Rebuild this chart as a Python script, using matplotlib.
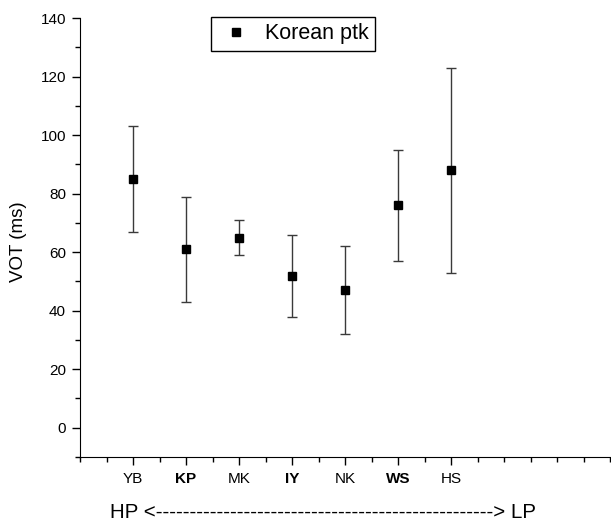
import matplotlib
matplotlib.use("Agg")
from matplotlib import pyplot as plt
from matplotlib.ticker import MultipleLocator

plt.rcParams['font.family'] = ['Liberation Sans', 'DejaVu Sans']

speakers = ["YB", "KP", "MK", "IY", "NK", "WS", "HS"]
bold_speakers = ["KP", "IY", "WS"]
vot_mean = [85, 61, 65, 52, 47, 76, 88]
vot_low = [67, 43, 59, 38, 32, 57, 53]
vot_high = [103, 79, 71, 66, 62, 95, 123]

positions = list(range(1, len(speakers) + 1))
err_low = [m - lo for m, lo in zip(vot_mean, vot_low)]
err_high = [hi - m for m, hi in zip(vot_mean, vot_high)]

fig = plt.figure(figsize=(6.11, 5.21), dpi=100)
ax = fig.add_axes([80 / 611, 64 / 521, 530 / 611, 439 / 521])

# error bars first, then the squares on top (only squares go in the legend)
ax.errorbar(positions, vot_mean, yerr=[err_low, err_high], fmt='none',
            ecolor='#3a3a3a', elinewidth=1, capsize=3.5, capthick=1)
ax.plot(positions, vot_mean, 's', color='black', markersize=5.5,
        label='Korean ptk')

ax.set_xlim(0, 10)
ax.set_ylim(-10, 140)
ax.spines['top'].set_visible(False)
ax.spines['right'].set_visible(False)

ax.yaxis.set_major_locator(MultipleLocator(20))
ax.yaxis.set_minor_locator(MultipleLocator(10))
ax.xaxis.set_major_locator(MultipleLocator(1))
ax.xaxis.set_minor_locator(MultipleLocator(0.5))
ax.tick_params(which='major', direction='out', length=6, width=1, labelsize=11)
ax.tick_params(which='minor', direction='out', length=3.5, width=1)
ax.tick_params(axis='y', pad=4)
ax.tick_params(axis='x', pad=5)

ax.set_xticks(positions, speakers)
for lab in ax.get_xticklabels():
    if lab.get_text() in bold_speakers:
        lab.set_fontweight('bold')

ax.set_ylabel("VOT (ms)", fontsize=13.5)
ax.yaxis.set_label_coords(-53 / 530, 0.49)
ax.set_xlabel("HP <" + "-" * 50 + "> LP", fontsize=14.8)
ax.xaxis.set_label_coords(243 / 530, -0.104)

leg = ax.legend(loc='upper left', bbox_to_anchor=(131 / 530, 1.003),
                fancybox=False, edgecolor='black', framealpha=1,
                fontsize=15.5, handletextpad=0.49, borderpad=0.3,
                borderaxespad=0, handlelength=1.72)
leg.get_frame().set_linewidth(1)

fig.savefig("out.png", dpi=100)
